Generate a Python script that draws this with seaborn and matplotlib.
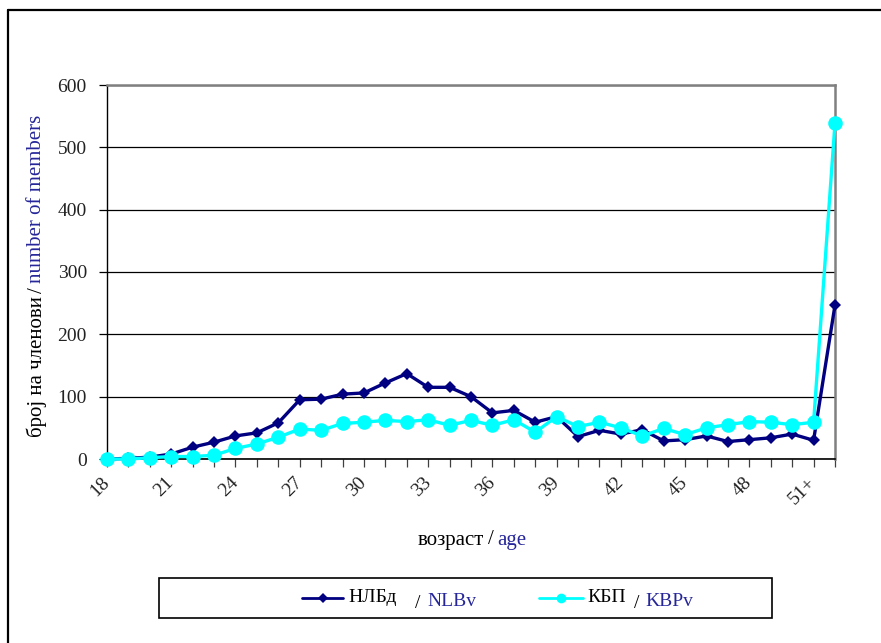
import matplotlib
matplotlib.use("Agg")
import matplotlib.pyplot as plt
import pandas as pd
import seaborn as sns
from matplotlib.lines import Line2D

# data
ages = [str(a) for a in range(18, 51)] + ["51+", "52+"]
nlbv = [0, 1, 3, 8, 19, 27, 37, 42, 58, 95, 96, 104, 106, 122, 137, 115, 115, 100,
        74, 78, 59, 68, 36, 46, 40, 47, 29, 31, 37, 28, 31, 34, 40, 30, 247]
kbpv = [0, 0, 2, 4, 4, 6, 17, 24, 35, 48, 46, 57, 59, 62, 60, 63, 54, 62,
        54, 63, 43, 68, 52, 59, 50, 37, 49, 39, 50, 55, 60, 59, 55, 59, 539]
yticks = [0, 100, 200, 300, 400, 500, 600]

NAVY = "#000080"
CYAN = "#00FFFF"
BLUE_TXT = "#26269A"
W, H = 881, 643
FS = 14
FS_LAB = 15

sns.set_style("white")
plt.rcParams['font.family'] = ['Liberation Serif', 'DejaVu Serif']

fig = plt.figure(figsize=(W / 100, H / 100), dpi=100)


def fx(px):
    return px / W


def fy(py):
    return 1 - py / H


ax = fig.add_axes([fx(107), fy(459), fx(835) - fx(107), fy(85) - fy(459)])

df = pd.DataFrame({"age": ages, "nlbv": nlbv, "kbpv": kbpv})
sns.lineplot(data=df, x="age", y="nlbv", ax=ax, color=NAVY, marker="D", markersize=6.5,
             markeredgewidth=0, linewidth=2.4, sort=False, clip_on=False, zorder=4)
sns.lineplot(data=df, x="age", y="kbpv", ax=ax, color=CYAN, marker="o", markersize=10.5,
             markeredgewidth=0, linewidth=2.4, sort=False, clip_on=False, zorder=5)

ax.set_xlim(0, len(ages) - 1)
ax.set_ylim(0, 600)
ax.set_yticks(yticks)
ax.set_xticks(range(len(ages)))
ax.set_xticklabels([a if i % 3 == 0 else "" for i, a in enumerate(ages)],
                   rotation=45, ha="right", va="center", rotation_mode="anchor")
ax.tick_params(axis="x", direction="out", length=6, width=0.9, color="#404040",
               pad=9, labelsize=FS, labelcolor="#222222", bottom=True)
ax.tick_params(axis="y", direction="out", length=5.5, width=0.9, color="black",
               pad=9, labelsize=FS, labelcolor="#222222", left=True)
ax.set_xlabel("")
ax.set_ylabel("")
ax.yaxis.grid(True, color="black", linewidth=0.9)
ax.set_axisbelow(True)
for s in ["top", "right"]:
    ax.spines[s].set_color("#808080")
    ax.spines[s].set_linewidth(1.8)
ax.spines["left"].set_color("black")
ax.spines["left"].set_linewidth(1.0)
ax.spines["bottom"].set_color("black")
ax.spines["bottom"].set_linewidth(1.2)

# outer frame (cut off at right and bottom)
fig.add_artist(Line2D([fx(8), fx(8)], [fy(10), fy(H + 5)], color="black", lw=1.6))
fig.add_artist(Line2D([fx(8), fx(W + 5)], [fy(10), fy(10)], color="black", lw=1.6))

renderer = fig.canvas.get_renderer()


def pieces_row(parts, cx, cy, gap=4):
    # horizontal run of coloured text, centred on (cx, cy) in pixels
    arts = [fig.text(0, 0, s, color=c, fontsize=FS_LAB, va="center", ha="left")
            for s, c in parts]
    widths = [a.get_window_extent(renderer).width for a in arts]
    x = cx - (sum(widths) + gap * (len(arts) - 1)) / 2
    for a, w in zip(arts, widths):
        a.set_position((fx(x), fy(cy)))
        x += w + gap


def pieces_col(parts, cx, cy, gap=4):
    # vertical run (rotated 90), read bottom to top, centred on (cx, cy)
    arts = [fig.text(0, 0, s, color=c, fontsize=FS_LAB, rotation=90,
                     va="bottom", ha="center") for s, c in parts]
    heights = [a.get_window_extent(renderer).height for a in arts]
    y = cy + (sum(heights) + gap * (len(arts) - 1)) / 2
    for a, h in zip(arts, heights):
        a.set_position((fx(cx), fy(y)))
        y -= h + gap


pieces_col([("број на членови", "black"), ("/", "black"),
            ("number of members", BLUE_TXT)], 37, 276)
pieces_row([("возраст", "black"), ("/", "black"), ("age", BLUE_TXT)], 472, 540)

# legend box
fig.add_artist(plt.Rectangle((fx(159), fy(618)), fx(772) - fx(159), fy(578) - fy(618),
                             fill=False, edgecolor="black", lw=1.2))
fig.add_artist(Line2D([fx(302), fx(322.5), fx(343)], [fy(598)] * 3, color=NAVY, lw=2,
                      marker="D", markersize=5, markevery=[1], markeredgewidth=0))
fig.add_artist(Line2D([fx(539), fx(561), fx(583)], [fy(598)] * 3, color=CYAN, lw=2,
                      marker="o", markersize=7, markevery=[1], markeredgewidth=0))
fig.text(fx(348), fy(598), "НЛБд", color="black", fontsize=FS, va="center")
fig.text(fx(415), fy(603), "/", color="black", fontsize=FS, va="center")
fig.text(fx(427), fy(602), "NLBv", color=BLUE_TXT, fontsize=FS, va="center")
fig.text(fx(587), fy(598), "КБП", color="black", fontsize=FS, va="center")
fig.text(fx(634), fy(603), "/", color="black", fontsize=FS, va="center")
fig.text(fx(645), fy(602), "KBPv", color=BLUE_TXT, fontsize=FS, va="center")

fig.savefig("out.png", dpi=100)
